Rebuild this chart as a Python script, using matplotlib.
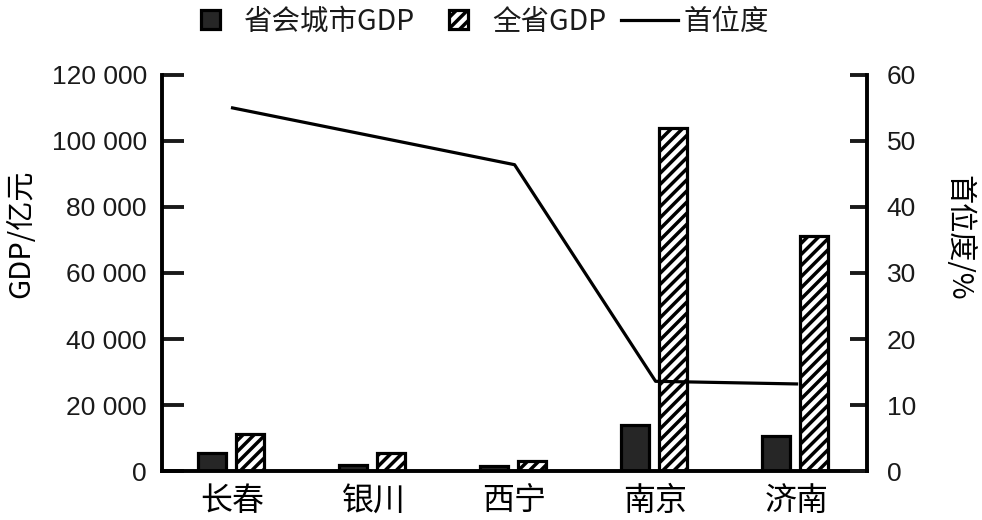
import numpy as np
import matplotlib
matplotlib.use("Agg")
import matplotlib.pyplot as plt
from matplotlib.lines import Line2D
from matplotlib.patches import Patch, Rectangle
from matplotlib.legend_handler import HandlerPatch

# data
cities = ["长春", "银川", "西宁", "南京", "济南"]
city_gdp = [5500, 1800, 1500, 14000, 10600]        # 省会城市GDP, 亿元
prov_gdp = [11300, 5600, 3000, 104000, 71200]      # 全省GDP, 亿元
primacy = [55.0, 50.7, 46.4, 13.6, 13.2]           # 首位度, %

left_ticks = [0, 20000, 40000, 60000, 80000, 100000, 120000]
left_labels = ["0", "20 000", "40 000", "60 000", "80 000", "100 000", "120 000"]
right_ticks = [0, 10, 20, 30, 40, 50, 60]

plt.rcParams['font.family'] = ['Noto Sans CJK SC', 'DejaVu Sans']
plt.rcParams['hatch.linewidth'] = 2.5
plt.rcParams['text.color'] = '#1a1a1a'

dark = '#262626'
lw = 2.3

fig = plt.figure(figsize=(9.82, 5.2), dpi=100)
ax = fig.add_axes([0.165, 0.094, 0.718, 0.762])
x = np.arange(len(cities))

ax.bar(x - 0.145, city_gdp, 0.2, color=dark, edgecolor='black', linewidth=lw)
ax.bar(x + 0.125, prov_gdp, 0.2, color='white', edgecolor='black', linewidth=lw, hatch='///')
ax.set_xlim(-0.5, 4.5)
ax.set_ylim(0, 120000)

ax2 = ax.twinx()
ax2.plot(x, primacy, color='black', linewidth=lw)
ax2.set_ylim(0, 60)

for s in ['top', 'right']:
    ax.spines[s].set_visible(False)
for s in ['top', 'left', 'bottom']:
    ax2.spines[s].set_visible(False)
ax.spines['left'].set_linewidth(lw + 0.5)
ax.spines['bottom'].set_linewidth(lw + 0.5)
ax2.spines['right'].set_linewidth(lw + 0.5)

ax.set_xticks(x, cities, fontsize=23)
ax.tick_params(axis='x', length=0, pad=10)
ax.set_yticks(left_ticks, left_labels, fontfamily='Liberation Sans', fontsize=19)
ax.tick_params(axis='y', direction='in', length=16, width=lw + 0.5, pad=11, colors='#1a1a1a')
ax2.set_yticks(right_ticks, [str(v) for v in right_ticks], fontfamily='Liberation Sans', fontsize=19)
ax2.tick_params(axis='y', direction='in', length=12, width=lw + 0.5, pad=14, colors='#1a1a1a')

ax.set_ylabel("GDP/亿元", fontsize=21, va='center')
ax.yaxis.set_label_coords(-0.2, 0.60)
ax2.set_ylabel("首位度/%", fontsize=21, rotation=270, va='center')
ax2.yaxis.set_label_coords(1.13, 0.59)


def square(legend, orig_handle, xdescent, ydescent, width, height, fontsize):
    side = height * 0.95
    return Rectangle((xdescent + (width - side) / 2, ydescent + (height - side) / 2), side, side)


handles = [
    Patch(facecolor=dark, edgecolor='black', linewidth=lw),
    Patch(facecolor='white', edgecolor='black', linewidth=lw, hatch='///'),
    Line2D([], [], color='black', linewidth=lw),
]
labels = ["省会城市GDP", "全省GDP", "首位度"]
fig.legend(handles, labels, loc='center', bbox_to_anchor=(0.484, 0.958), ncol=3,
           frameon=False, fontsize=20.5, handlelength=2.0, handleheight=0.7,
           handletextpad=0.2, columnspacing=0.5,
           handler_map={Patch: HandlerPatch(patch_func=square)})

fig.savefig("out.png", dpi=100)
